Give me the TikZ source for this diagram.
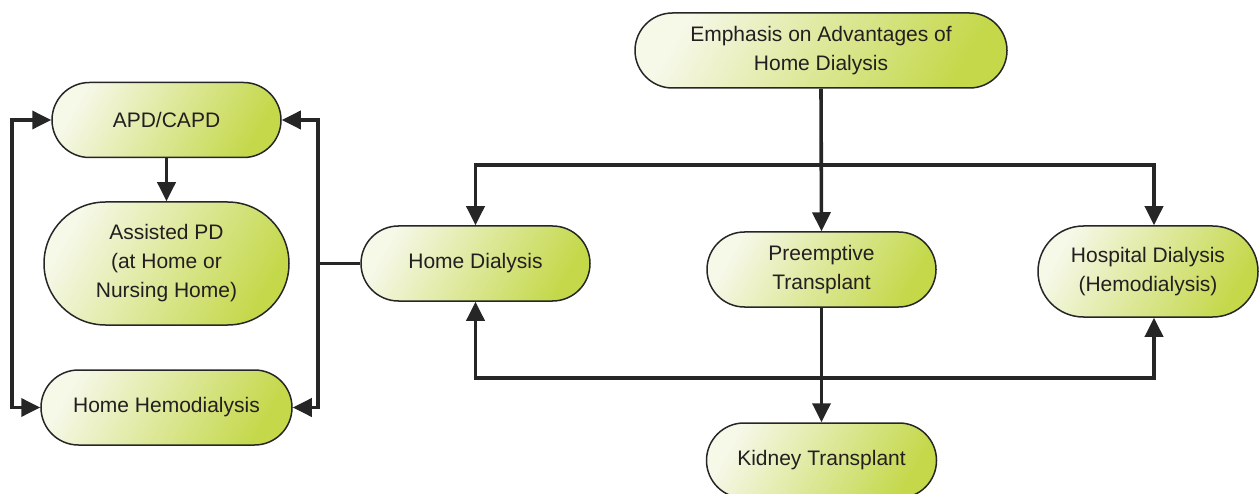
\documentclass[tikz,border=0pt]{standalone}
\usepackage{fontspec}
\setmainfont{Liberation Sans}
\usetikzlibrary{shapes.misc,arrows.meta}
\definecolor{gl}{HTML}{F6F8E8}
\definecolor{gd}{HTML}{C4D84A}
\definecolor{edge}{HTML}{262626}
\definecolor{txt}{HTML}{231F20}
\tikzset{
  box/.style={rounded rectangle, draw=edge, line width=1.5pt, inner sep=0pt,
    left color=gl, right color=gd, shading angle=60,
    text=txt, align=center, font=\fontsize{21}{29}\selectfont,
    minimum height=75pt},
  conn/.style={line width=3.6pt, draw=edge},
  arr/.style={conn, -{Triangle[length=19pt,width=18pt]}}
}
\begin{document}
\begin{tikzpicture}[x=1pt,y=-1pt]
\useasboundingbox (0,0) rectangle (1260,494);
\node[box, minimum width=372pt] (emph) at (821,50.5) {Emphasis on Advantages of\\Home Dialysis};
\node[box, minimum width=229pt] (apd) at (166.5,120) {APD/CAPD};
\node[box, minimum width=245pt, minimum height=123pt] (apd2) at (166.5,263.5) {Assisted PD\\(at Home or\\Nursing Home)};
\node[box, minimum width=251pt] (hh) at (166.5,407.5) {Home Hemodialysis};
\node[box, minimum width=229pt] (hd) at (475.5,263.5) {Home Dialysis};
\node[box, minimum width=229pt] (pre) at (821.5,269.5) {Preemptive\\Transplant};
\node[box, minimum width=220pt, minimum height=91pt] (hosp) at (1148,271.5) {Hospital Dialysis\\(Hemodialysis)};
\node[box, minimum width=230pt] (kid) at (821.5,460.5) {Kidney Transplant};

\coordinate (t1) at (475.5,165);
\coordinate (t2) at (1154,165);
\coordinate (b1) at (475.5,378);
\coordinate (b2) at (1154,378);
\coordinate (L) at (318,263.5);
\coordinate (R) at (12,263.5);

\draw[arr] (emph.south) -- (pre.north);
\draw[arr] (t2) -- (t1) -- (hd.north);
\draw[arr] (t1) -- (t2) -- (t2 |- hosp.north);
\draw[arr] (b2) -- (b1) -- (hd.south);
\draw[arr] (b1) -- (b2) -- (b2 |- hosp.south);
\draw[arr] (pre.south) -- (kid.north);
\draw[arr] (apd.south) -- (apd2.north);
\draw[conn] (hd.west) -- (L);
\draw[arr] (L) |- (apd.east);
\draw[arr] (L) |- (hh.east);
\draw[arr] (R) |- (apd.west);
\draw[arr] (R) |- (hh.west);
\end{tikzpicture}
\end{document}
